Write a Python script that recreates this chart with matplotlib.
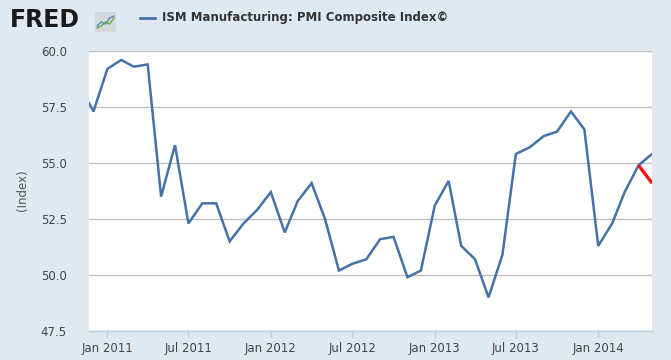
import matplotlib
matplotlib.use("Agg")
import matplotlib.pyplot as plt
import matplotlib.dates as mdates
import pandas as pd
import numpy as np

# ---- data ----
dates = pd.date_range("2010-11-01", "2014-05-01", freq="MS")
pmi = [58.4, 57.3,
       59.2, 59.6, 59.3, 59.4, 53.5, 55.8, 52.3, 53.2, 53.2, 51.5, 52.3, 52.9,
       53.7, 51.9, 53.3, 54.1, 52.5, 50.2, 50.5, 50.7, 51.6, 51.7, 49.9, 50.2,
       53.1, 54.2, 51.3, 50.7, 49.0, 50.9, 55.4, 55.7, 56.2, 56.4, 57.3, 56.5,
       51.3, 52.3, 53.7, 54.9, 55.4]
red_dates = pd.to_datetime(["2014-04-01", "2014-05-01"])
red_vals = [54.9, 54.1]
yticks = [47.5, 50.0, 52.5, 55.0, 57.5, 60.0]
xtick_dates = pd.to_datetime(["2011-01-01", "2011-07-01", "2012-01-01", "2012-07-01",
                              "2013-01-01", "2013-07-01", "2014-01-01"])
xtick_labels = ["Jan 2011", "Jul 2011", "Jan 2012", "Jul 2012",
                "Jan 2013", "Jul 2013", "Jan 2014"]
series_name = "ISM Manufacturing: PMI Composite Index\u00a9"

BG = "#E1E9F0"
BLUE = "#4572A7"
TXT = "#444444"

fig = plt.figure(figsize=(6.71, 3.60), dpi=100, facecolor=BG)
W, H = 671, 360
L, R, T, B = 89, 652, 51, 331
ax = fig.add_axes([L / W, 1 - B / H, (R - L) / W, (B - T) / H])
ax.set_facecolor("white")

ax.plot(dates, pmi, color=BLUE, lw=1.8, solid_joinstyle="miter", zorder=3, clip_on=True)
ax.plot(red_dates, red_vals, color="#FF1010", lw=2.4, zorder=4, solid_capstyle="butt")

ax.set_xlim(pd.Timestamp("2010-11-21"), pd.Timestamp("2014-05-01"))
ax.set_ylim(47.5, 60.0)
ax.set_yticks(yticks)
ax.set_yticklabels([f"{v:.1f}" for v in yticks])
ax.set_xticks(xtick_dates)
ax.set_xticklabels(xtick_labels)

ax.grid(axis="y", color="#C0C0C0", lw=1.0)
ax.set_axisbelow(True)
for s in ["left", "right", "top"]:
    ax.spines[s].set_visible(False)
ax.spines["bottom"].set_color("#C0D0E0")
ax.spines["bottom"].set_linewidth(1.0)

ax.tick_params(axis="y", length=0, pad=16, labelsize=8.5, labelcolor=TXT)
ax.tick_params(axis="x", length=5, width=1, color="#C0D0E0", pad=3,
               labelsize=8.5, labelcolor=TXT)

fig.text(22 / W, 1 - 190 / H, "(Index)", rotation=90, ha="center", va="center",
         fontsize=8.5, color="#555555")

# legend
fig.add_artist(plt.Line2D([140 / W, 155 / W], [1 - 17.5 / H, 1 - 17.5 / H],
                          color=BLUE, lw=2))
fig.text(162 / W, 1 - 17.5 / H, series_name, ha="left", va="center",
         fontsize=8.5, fontweight="bold", color="#333333")

# FRED logo
fig.text(10 / W, 1 - 20 / H, "FRED", ha="left", va="center", fontsize=17,
         fontweight="heavy", color="#1a1a1a", family="DejaVu Sans")
icon = fig.add_axes([95 / W, 1 - 32 / H, 21 / W, 20 / H])
icon.set_facecolor("#d3d8dc")
icon.set_xlim(0, 10)
icon.set_ylim(0, 10)
icon_x = [1, 3, 5, 7, 9]
icon_b = [3, 5, 4, 7, 8]
icon_g = [2, 3, 5, 4, 7]
icon.plot(icon_x, icon_b, color="#4f86c6", lw=1)
icon.plot(icon_x, icon_g, color="#6aab3a", lw=1)
icon.set_xticks([])
icon.set_yticks([])
for s in icon.spines.values():
    s.set_visible(False)

fig.savefig("out.png", dpi=100, facecolor=BG)
